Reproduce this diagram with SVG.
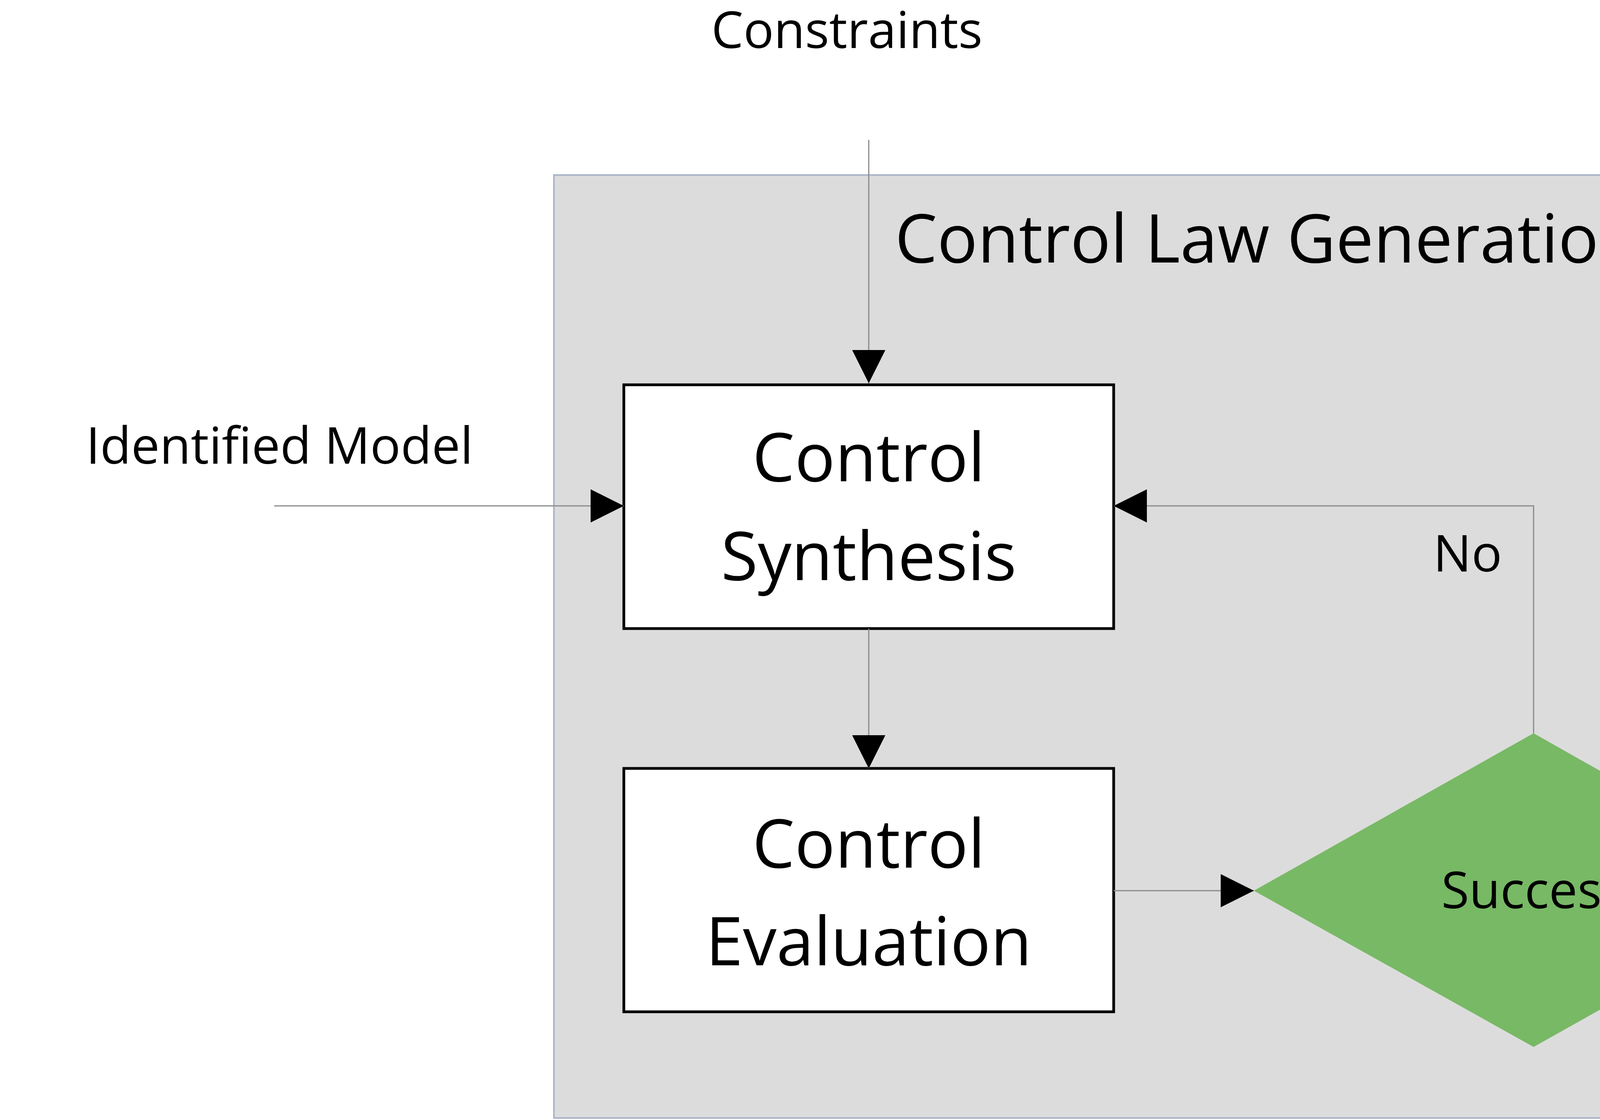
<svg xmlns="http://www.w3.org/2000/svg" width="5851" height="2867" viewBox="0 0 5851 2867">
<style>
text{font-family:"Open Sans","Liberation Sans",sans-serif;fill:#000}
.big{font-size:172px}
.mid{font-size:130px}
.box{fill:#fff;stroke:#000;stroke-width:7}
.ln{stroke:#8a8a8a;stroke-width:3;fill:none}
</style>
<defs>
<marker id="ah" viewBox="0 0 10 10" refX="10" refY="5" markerWidth="85" markerHeight="85" markerUnits="userSpaceOnUse" orient="auto"><path d="M0,0 L10,5 L0,10 Z" fill="#000"/></marker>
</defs>
<rect x="1418" y="448" width="3490" height="2414" fill="#dcdcdc" stroke="#aab4c8" stroke-width="4"/>
<text class="big" x="2291" y="672">Control Law Generation</text>
<g id="constraints"><text class="mid" x="1821" y="123">Constraints</text></g>
<g id="identified"><text class="mid" x="220" y="1187">Identified Model</text></g>
<g id="synth"><rect class="box" x="1597" y="985" width="1254" height="624"/>
<text class="big" x="2224" y="1232" text-anchor="middle">Control</text>
<text class="big" x="2224" y="1485" text-anchor="middle">Synthesis</text></g>
<g id="eval"><rect class="box" x="1597" y="1967" width="1254" height="623"/>
<text class="big" x="2224" y="2221" text-anchor="middle">Control</text>
<text class="big" x="2224" y="2471" text-anchor="middle">Evaluation</text></g>
<g id="success"><polygon points="3210,2280 3926,1877 4639,2280 3926,2680" fill="#78b965"/>
<text class="mid" x="3926" y="2325" text-anchor="middle">Success</text></g>
<g id="out"><text class="mid" x="5034" y="2228">Control Law</text></g>
<g id="connectors">
<line class="ln" x1="2224" y1="358" x2="2224" y2="981" marker-end="url(#ah)"/>
<line class="ln" x1="702" y1="1295" x2="1597" y2="1295" marker-end="url(#ah)"/>
<line class="ln" x1="2224" y1="1609" x2="2224" y2="1967" marker-end="url(#ah)"/>
<line class="ln" x1="2851" y1="2280" x2="3210" y2="2280" marker-end="url(#ah)"/>
<polyline class="ln" points="3926,1877 3926,1295 2851,1295" marker-end="url(#ah)"/>
<line class="ln" x1="4639" y1="2280" x2="5411" y2="2280" marker-end="url(#ah)"/>
<text class="mid" x="3669" y="1463">No</text>
<text class="mid" x="4575" y="2228">Yes</text>
</g>
</svg>
